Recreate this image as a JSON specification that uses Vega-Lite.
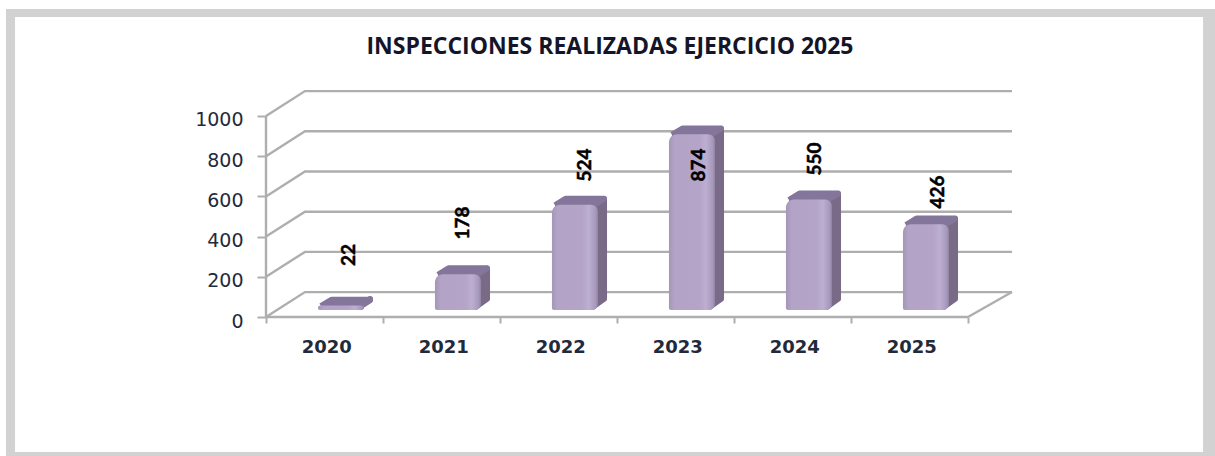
{
"$schema":"https://vega.github.io/schema/vega-lite/v6.json",
"width":746,"height":227,
"autosize":{"type":"none"},
"padding":{"left":266,"top":90,"right":203,"bottom":139},
"background":"#ffffff",
"view":{"stroke":null},
"title":{"text":"INSPECCIONES REALIZADAS  EJERCICIO 2025","anchor":"middle","dx":-29,"offset":-50,"font":"Open Sans","fontWeight":"bold","fontSize":23,"color":"#15152a"},
"datasets":{
"bars":[
{"year":"2020","i":0,"value":22,"labelX":0.71,"labelY":308},
{"year":"2021","i":1,"value":178,"labelX":1.684,"labelY":468},
{"year":"2022","i":2,"value":524,"labelX":2.726,"labelY":756},
{"year":"2023","i":3,"value":874,"labelX":3.70,"labelY":756},
{"year":"2024","i":4,"value":550,"labelX":4.692,"labelY":786},
{"year":"2025","i":5,"value":426,"labelX":5.744,"labelY":622}],
"grid":[{"v":0},{"v":200},{"v":400},{"v":600},{"v":800},{"v":1000}]
},
"data":{"name":"bars"},
"encoding":{},
"layer":[
{"data":{"values":[{}]},"mark":{"type":"rect","fill":"#d2d2d2"},"encoding":{
"x":{"datum":-2.222,"type":"quantitative","scale":{"domain":[0,6.376],"nice":false,"zero":false},"axis":{"values":[0,1,2,3,4,5,6],"title":null,"labels":false,"domain":false,"grid":false,"tickSize":6,"tickWidth":2,"tickColor":"#aeaeae","zindex":1}},
"x2":{"datum":8.111},
"y":{"datum":1532,"type":"quantitative","scale":{"domain":[0,1129.35],"nice":false,"zero":false},"axis":{"values":[0,200,400,600,800,1000],"format":"d","title":null,"domain":false,"grid":false,"tickSize":9,"tickWidth":2,"tickColor":"#aeaeae","labelFont":"DejaVu Sans","labelFontSize":19,"labelColor":"#1f2a3a","labelPadding":14,"labelOffset":4,"zindex":1}},
"y2":{"datum":-691.5}}},
{"data":{"values":[{}]},"mark":{"type":"rect","fill":"#ffffff"},"encoding":{
"x":{"datum":-2.145,"type":"quantitative"},"x2":{"datum":8.009},
"y":{"datum":1492.5,"type":"quantitative"},"y2":{"datum":-671.6}}},
{"data":{"name":"grid"},
"transform":[{"calculate":"[0,0.333,6.376]","as":"gx"},{"calculate":"[datum.v,datum.v+124,datum.v+124]","as":"gy"},{"flatten":["gx","gy"]}],
"mark":{"type":"line","stroke":"#aeaeae","strokeWidth":2.4},
"encoding":{"x":{"field":"gx","type":"quantitative"},"y":{"field":"gy","type":"quantitative"},"detail":{"field":"v"}}},
{"data":{"values":[{}]},"mark":{"type":"rule","stroke":"#aeaeae","strokeWidth":2.4},"encoding":{
"x":{"datum":0,"type":"quantitative"},"y":{"datum":0,"type":"quantitative"},"y2":{"datum":1000}}},
{"data":{"values":[{}]},"mark":{"type":"rule","stroke":"#aeaeae","strokeWidth":2.4},"encoding":{
"x":{"datum":0,"type":"quantitative"},"x2":{"datum":6},"y":{"datum":0,"type":"quantitative"}}},
{"data":{"values":[{}]},"mark":{"type":"rule","stroke":"#aeaeae","strokeWidth":2.4},"encoding":{
"x":{"datum":6,"type":"quantitative"},"x2":{"datum":6.376},"y":{"datum":0,"type":"quantitative"},"y2":{"datum":124}}},
{"transform":[
{"calculate":"[datum.i+0.79,datum.i+0.889,datum.i+0.889,datum.i+0.79,datum.i+0.79]","as":"px"},
{"calculate":"[datum.value+25,datum.value+62,90,50,datum.value+25]","as":"py"},
{"calculate":"[0,1,2,3,4]","as":"ord"},
{"flatten":["px","py","ord"]}],
"mark":{"type":"line","fill":"#796b88","stroke":"#796b88","strokeWidth":6,"strokeJoin":"round"},
"encoding":{"x":{"field":"px","type":"quantitative"},"y":{"field":"py","type":"quantitative"},"detail":{"field":"year"},"order":{"field":"ord","type":"quantitative"}}},
{"transform":[
{"calculate":"[datum.i+0.47,datum.i+0.56,datum.i+0.889,datum.i+0.80,datum.i+0.47]","as":"px"},
{"calculate":"[datum.value+32,datum.value+64,datum.value+64,datum.value+32,datum.value+32]","as":"py"},
{"calculate":"[0,1,2,3,4]","as":"ord"},
{"flatten":["px","py","ord"]}],
"mark":{"type":"line","fill":"#84769a","stroke":"#84769a","strokeWidth":6,"strokeJoin":"round"},
"encoding":{"x":{"field":"px","type":"quantitative"},"y":{"field":"py","type":"quantitative"},"detail":{"field":"year"},"order":{"field":"ord","type":"quantitative"}}},
{"transform":[{"calculate":"datum.i+0.444","as":"x0"},{"calculate":"datum.i+0.838","as":"x1"},{"calculate":"datum.value+35","as":"top"},{"calculate":"35","as":"base"}],
"mark":{"type":"rect","cornerRadiusTopLeft":8,"cornerRadiusTopRight":7,"cornerRadiusBottomLeft":2,"cornerRadiusBottomRight":6,
"fill":{"gradient":"linear","x1":0,"x2":1,"y1":0,"y2":0,"stops":[{"offset":0,"color":"#a495b9"},{"offset":0.12,"color":"#b2a3c7"},{"offset":0.65,"color":"#b3a4c8"},{"offset":0.8,"color":"#bdafd1"},{"offset":0.95,"color":"#a698ba"},{"offset":1,"color":"#8f81a1"}]}},
"encoding":{"x":{"field":"x0","type":"quantitative"},"x2":{"field":"x1"},"y":{"field":"top","type":"quantitative"},"y2":{"field":"base"}}},
{"mark":{"type":"text","angle":270,"font":"Lato","fontWeight":"bold","fontSize":19,"color":"#000000","stroke":"#000000","strokeWidth":0.5,"align":"center","baseline":"middle"},
"encoding":{"x":{"field":"labelX","type":"quantitative"},"y":{"field":"labelY","type":"quantitative"},"text":{"field":"value","type":"quantitative"}}},
{"transform":[{"calculate":"datum.i+0.52","as":"yx"},{"calculate":"-154","as":"yy"}],
"mark":{"type":"text","font":"DejaVu Sans","fontWeight":"bold","fontSize":18,"color":"#1f2a3a","align":"center","baseline":"middle"},
"encoding":{"x":{"field":"yx","type":"quantitative"},"y":{"field":"yy","type":"quantitative"},"text":{"field":"year","type":"nominal"}}}
]
}
